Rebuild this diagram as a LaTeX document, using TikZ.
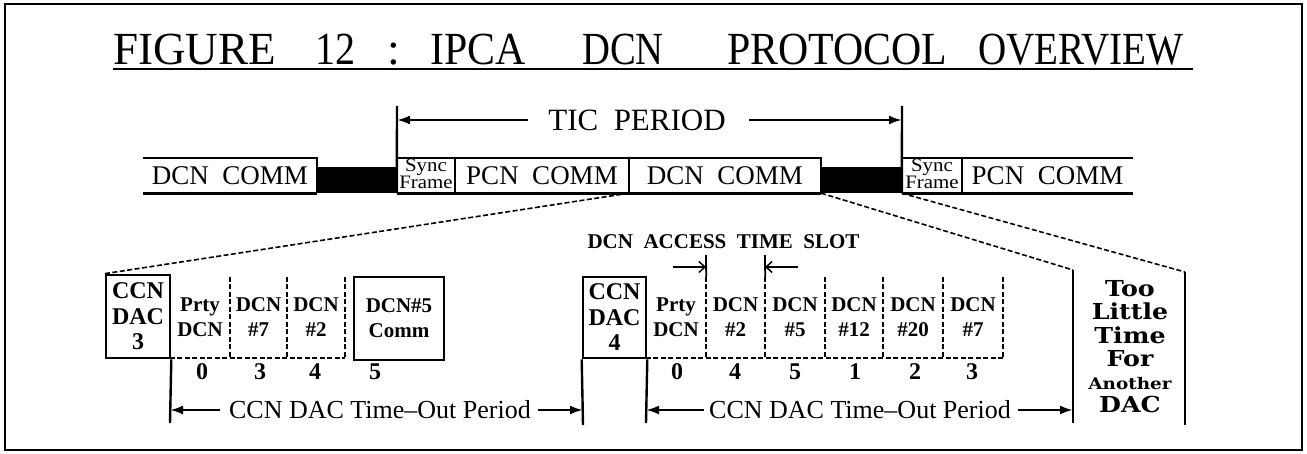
\documentclass[tikz,border=0pt]{standalone}
\usepackage{graphicx}
\usepackage{fontspec}
\setmainfont{Liberation Serif}
\newfontfamily\mySlab{DejaVu Serif}
\usetikzlibrary{arrows.meta}
\newcommand\myTitle{\fontsize{46}{54}\selectfont}
\newcommand\myBar{\fontsize{27}{30}\selectfont}
\newcommand\mySync{\fontsize{19}{13}\selectfont}
\newcommand\myTic{\fontsize{31}{36}\selectfont}
\newcommand\myDac{\fontsize{24}{25.5}\selectfont\bfseries}
\newcommand\mySlot{\fontsize{21}{25}\selectfont\bfseries}
\newcommand\myNum{\fontsize{24}{25}\selectfont\bfseries}
\newcommand\myTo{\fontsize{26}{30}\selectfont}
\newcommand\myAcc{\fontsize{21}{24}\selectfont\bfseries}
\newcommand\myTlt{\fontsize{22}{23}\selectfont\mySlab\bfseries}
\begin{document}
\begin{tikzpicture}[x=1pt,y=-1pt,
  barline/.style={line width=2.2pt},
  barbot/.style={line width=3.2pt},
  seg/.style={inner sep=0pt, minimum height=35pt},
  blk/.style={fill=black, inner sep=0pt, minimum height=26pt},
  boxthick/.style={draw, line width=2.6pt, inner sep=0pt, align=center},
  slot/.style={inner sep=0pt, minimum height=81pt, align=center, font=\mySlot},
  dsh/.style={line width=1.6pt, dash pattern=on 5pt off 2.5pt},
  tickline/.style={line width=2.4pt},
  arr/.style={line width=2.4pt, -{Latex[length=13pt,width=9pt]}},
  sarr/.style={line width=1.5pt, -{Straight Barb[length=6pt,width=11pt]}},
  num/.style={font=\myNum, inner sep=0pt},
  tword/.style={anchor=base west, inner sep=0pt, font=\myTitle}]
\useasboundingbox (0,0) rectangle (1307,454);
\draw[line width=2pt] (5,4) rectangle (1302,450);

% title
\node[tword] (w1) at (113,65) {\scalebox{0.98}[1]{FIGURE}};
\node[tword] (w2) at (315,65) {\scalebox{0.87}[1]{12}};
\node[tword] (w3) at (387,65) {:};
\node[tword] (w4) at (430,65) {\scalebox{0.91}[1]{IPCA}};
\node[tword] (w5) at (582,65) {\scalebox{0.84}[1]{DCN}};
\node[tword] (w6) at (727,65) {\scalebox{0.91}[1]{PROTOCOL}};
\node[tword] (w7) at (978,65) {\scalebox{0.85}[1]{OVERVIEW}};
\coordinate (ul1) at (113,69);
\coordinate (ul2) at (1193,69);
\draw[line width=2pt] (ul1) -- (ul2);

% top bar
\node[seg, minimum width=174pt, font=\myBar] (d1) at (230,175.5) {DCN\ \ COMM};
\node[blk, minimum width=80pt] (k1) at (357,180) {};
\node[seg, minimum width=58pt, font=\mySync] (s1) at (426,175.5) {\scalebox{1.1}[1]{\begin{tabular}{@{}c@{}}Sync\\Frame\end{tabular}}};
\node[seg, minimum width=174pt, font=\myBar] (p1) at (542,175.5) {PCN\ \ COMM};
\node[seg, minimum width=192pt, font=\myBar] (d2) at (725,175.5) {DCN\ \ COMM};
\node[blk, minimum width=81pt] (k2) at (861.5,180) {};
\node[seg, minimum width=60pt, font=\mySync] (s2) at (932,175.5) {\scalebox{1.1}[1]{\begin{tabular}{@{}c@{}}Sync\\Frame\end{tabular}}};
\node[seg, minimum width=171pt, font=\myBar] (p2) at (1047.5,175.5) {PCN\ \ COMM};

\draw[barline] (d1.north west) -- (d1.north east) -- (d1.south east);
\draw[barbot] (d1.south west) -- (d1.south east);
\draw[barline] (s1.north west) -- (d2.north east) -- (d2.south east);
\draw[barbot] (s1.south west) -- (d2.south east);
\draw[barline] (s2.north west) -- (p2.north east);
\draw[barbot] (s2.south west) -- (p2.south east);
\draw[barline] (s1.north east) -- (s1.south east);
\draw[barline] (p1.north east) -- (p1.south east);
\draw[barline] (s2.north east) -- (s2.south east);

% TIC period
\coordinate (ta) at (397,106);
\coordinate (tb) at (902,106);
\draw[tickline] (ta) -- (s1.south west);
\draw[tickline] (tb) -- (s2.south west);
\node[font=\myTic, inner sep=0pt] (tic) at (637,120) {TIC\ \ PERIOD};
\draw[arr] ([xshift=-20pt]tic.west) -- (tic.west -| ta);
\draw[arr] ([xshift=23pt]tic.east) -- (tic.east -| tb);

% left DAC group
\node[boxthick, minimum width=64pt, minimum height=83pt, font=\myDac] (dac3) at (138,316.5) {CCN\\DAC\\3};
\node[slot, minimum width=60pt] (a0) at (200,317.5) {Prty\\DCN};
\node[slot, minimum width=57pt] (a1) at (258.5,317.5) {DCN\\\#7};
\node[slot, minimum width=58pt] (a2) at (316,317.5) {DCN\\\#2};
\node[boxthick, minimum width=90pt, minimum height=83pt, font=\mySlot] (c5) at (399,318.5) {DCN\#5\\Comm};
\draw[dsh] (a0.south west) -- (a2.south east);
\draw[dsh] (a0.north east) -- (a0.south east);
\draw[dsh] (a1.north east) -- (a1.south east);
\draw[dsh] (a2.north east) -- (a2.south east);
\node[num] (n0) at (202,372) {0};
\node[num] (n1) at (260,372) {3};
\node[num] (n2) at (315,372) {4};
\node[num] (n3) at (375,372) {5};

% right DAC group
\node[boxthick, minimum width=63pt, minimum height=81pt, font=\myDac] (dac4) at (614.5,317.5) {CCN\\DAC\\4};
\node[slot, minimum width=60pt] (b0) at (676,317.5) {Prty\\DCN};
\node[slot, minimum width=59pt] (b1) at (735.5,317.5) {DCN\\\#2};
\node[slot, minimum width=60pt] (b2) at (795,317.5) {DCN\\\#5};
\node[slot, minimum width=58pt] (b3) at (854,317.5) {DCN\\\#12};
\node[slot, minimum width=60pt] (b4) at (913,317.5) {DCN\\\#20};
\node[slot, minimum width=60pt] (b5) at (973,317.5) {DCN\\\#7};
\draw[dsh] (b0.south west) -- (b5.south east);
\foreach \s in {b0,b1,b2,b3,b4,b5} \draw[dsh] (\s.north east) -- (\s.south east);
\node[num] (m0) at (677,372) {0};
\node[num] (m1) at (735,372) {4};
\node[num] (m2) at (795,372) {5};
\node[num] (m3) at (855,372) {1};
\node[num] (m4) at (915,372) {2};
\node[num] (m5) at (972,372) {3};

% access time slot
\node[font=\myAcc, inner sep=0pt] (acc) at (723.5,242) {DCN\ \ ACCESS\ \ TIME\ \ SLOT};
\coordinate (g1) at (706,255);
\coordinate (g2) at (765,255);
\draw[line width=1.8pt] (g1) -- (b0.north east);
\draw[line width=1.8pt] (g2) -- (b1.north east);
\coordinate (h1) at (673,267);
\coordinate (h2) at (798,267);
\draw[sarr] (h1) -- (h1 -| g1);
\draw[sarr] (h2) -- (h2 -| g2);

% zoom connectors
\coordinate (va) at (1073,270);
\coordinate (vb) at (1185,272);
\draw[dsh] (d2.south west) -- (dac3.north west);
\draw[dsh] (d2.south east) -- (va);
\draw[dsh] (s2.south west) -- (vb);

% time-out periods
\coordinate (e1) at (170,423);
\coordinate (e2) at (583,425);
\coordinate (e3) at (646,423);
\coordinate (va2) at (1073,423);
\coordinate (vb2) at (1185,425);
\draw[tickline] (dac3.south east) -- (e1);
\draw[tickline] (dac4.south west) -- (e2);
\draw[tickline] (dac4.south east) -- (e3);
\draw[tickline] (va) -- (va2);
\draw[tickline] (vb) -- (vb2);
\node[font=\myTo, inner sep=0pt] (to1) at (380,410) {CCN DAC Time–Out Period};
\draw[arr] ([xshift=-9pt]to1.west) -- (to1.west -| e1);
\draw[arr] ([xshift=7pt]to1.east) -- (to1.east -| e2);
\node[font=\myTo, inner sep=0pt] (to2) at (860,410) {CCN DAC Time–Out Period};
\draw[arr] ([xshift=-5pt]to2.west) -- (to2.west -| e3);
\draw[arr] ([xshift=7pt]to2.east) -- (to2.east -| va2);

% too little time
\node[font=\myTlt, inner sep=0pt] (tlt) at (1130,350) {\scalebox{1.15}[1]{\begin{tabular}{@{}c@{}}Too\\Little\\Time\\For\\{\fontsize{16}{23}\selectfont Another}\\DAC\end{tabular}}};
\end{tikzpicture}
\end{document}
